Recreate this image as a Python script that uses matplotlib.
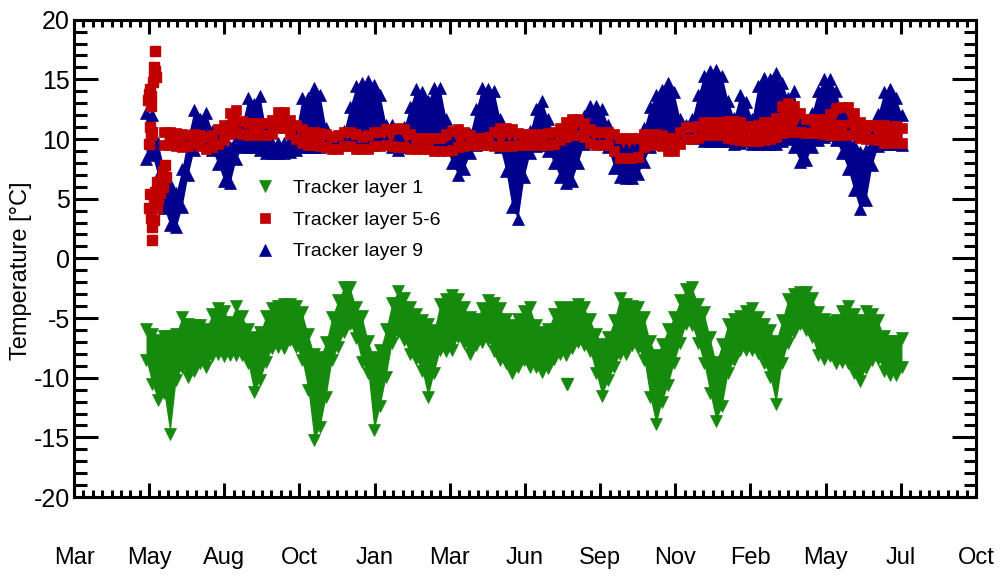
import matplotlib
matplotlib.use("Agg")
import matplotlib.pyplot as plt
import numpy as np

plt.rcParams["font.family"] = ["Liberation Sans", "DejaVu Sans"]
plt.rcParams["axes.unicode_minus"] = False

# x axis: days since the first tick, one label every 902/12 days
month_labels = ["Mar", "May", "Aug", "Oct", "Jan", "Mar", "Jun",
                "Sep", "Nov", "Feb", "May", "Jul", "Oct"]

# Tracker layer 1: upper / lower edge of the point cloud, every 6 days
layer1_days = np.arange(72, 829, 6)
layer1_hi = [
    -5.9, -6.3, -6.8, -6.5, -6.5, -6.3, -4.9, -5.5, -5.6, -5.6,
    -5.9, -4.7, -4.2, -4.4, -5.3, -4.0, -4.8, -5.9, -6.6, -6.2,
    -4.8, -4.2, -4.0, -3.8, -3.8, -4.0, -4.5, -6.3, -8.0, -8.3,
    -7.0, -4.9, -3.5, -2.4, -2.4, -4.1, -4.8, -6.9, -8.3, -7.7,
    -5.9, -3.7, -2.7, -3.3, -4.1, -4.7, -5.2, -5.5, -6.0, -3.8,
    -3.4, -3.1, -3.4, -4.1, -4.9, -5.1, -4.2, -3.5, -3.7, -4.2,
    -5.1, -5.6, -5.1, -4.4, -4.1, -5.6, -6.2, -5.9, -4.7, -4.1,
    -4.2, -4.1, -3.8, -4.1, -5.1, -6.3, -7.2, -6.6, -5.2, -3.3,
    -3.8, -4.0, -4.1, -4.9, -6.9, -8.1, -7.2, -5.9, -4.9, -3.5,
    -2.6, -2.4, -3.8, -4.5, -6.6, -8.7, -7.2, -5.5, -5.1, -4.8,
    -4.4, -4.2, -4.9, -5.5, -6.0, -6.9, -5.2, -3.4, -3.0, -2.8,
    -2.8, -3.3, -4.5, -5.1, -5.3, -5.2, -4.4, -4.0, -4.7, -5.2,
    -4.4, -4.7, -5.2, -6.5, -6.9, -6.9, -6.7]
layer1_lo = [
    -8.5, -10.5, -11.9, -11.3, -14.7, -10.2, -9.1, -9.9, -9.4, -8.8,
    -9.1, -8.2, -8.0, -8.2, -8.1, -8.1, -8.1, -8.8, -11.2, -10.2,
    -8.7, -7.5, -7.4, -7.5, -6.8, -7.4, -8.5, -11.0, -15.2, -14.1,
    -11.6, -8.5, -7.4, -6.2, -5.5, -6.7, -8.7, -9.6, -14.4, -12.4,
    -9.9, -7.1, -6.2, -6.8, -8.0, -8.4, -9.4, -11.6, -9.6, -7.7,
    -7.8, -7.7, -6.6, -7.1, -8.0, -7.3, -7.0, -6.8, -7.8, -8.5,
    -8.8, -9.6, -9.1, -8.5, -9.1, -9.1, -9.5, -9.2, -8.4, -8.0,
    -8.1, -7.5, -7.0, -7.3, -7.8, -9.6, -11.5, -10.2, -9.1, -8.0,
    -8.0, -7.3, -7.5, -8.5, -11.6, -13.9, -12.0, -10.6, -8.8, -7.1,
    -5.5, -5.6, -7.1, -8.8, -11.3, -13.6, -12.4, -9.6, -8.5, -7.7,
    -7.7, -7.7, -7.9, -8.8, -9.9, -12.2, -8.8, -7.1, -6.2, -5.5,
    -6.0, -6.6, -8.1, -8.4, -8.2, -8.8, -8.7, -8.8, -9.6, -10.3,
    -9.2, -8.5, -8.4, -9.4, -9.8, -9.8, -9.1]
layer1_extra_days = [493]
layer1_extra = [-10.5]

# Tracker layer 9
layer9_days = np.arange(72, 829, 6)
layer9_lo = [
    8.3, 8.7, 6.9, 4.2, 2.8, 2.6, 4.3, 7.0, 9.1, 9.8,
    9.6, 9.1, 7.9, 6.5, 6.3, 8.3, 9.3, 9.3, 9.3, 9.1,
    8.8, 8.8, 8.8, 8.8, 8.9, 9.1, 9.3, 9.3, 9.3, 9.3,
    9.6, 9.6, 9.8, 9.8, 9.8, 9.8, 9.8, 9.8, 10.0, 10.0,
    9.8, 9.3, 9.1, 9.3, 9.7, 9.8, 9.8, 9.8, 9.8, 9.8,
    9.3, 8.0, 7.0, 7.5, 8.8, 9.5, 9.8, 9.8, 9.8, 9.3,
    7.3, 4.3, 3.3, 6.8, 8.8, 9.4, 9.5, 9.0, 8.0, 6.8,
    6.3, 6.5, 8.0, 9.6, 9.8, 9.8, 9.8, 9.3, 7.6, 6.8,
    6.7, 6.7, 7.1, 8.1, 9.3, 9.8, 10.1, 10.3, 10.3, 10.3,
    10.3, 10.3, 10.1, 9.8, 9.8, 9.8, 9.8, 9.8, 9.6, 9.7,
    9.8, 9.6, 9.6, 9.6, 9.6, 9.6, 9.8, 10.0, 9.3, 8.1,
    8.2, 9.3, 9.9, 10.2, 10.3, 9.9, 8.8, 7.5, 5.7, 4.1,
    4.9, 7.8, 9.4, 9.6, 9.6, 9.6, 9.5]
layer9_hi = [
    12.2, 12.0, 9.7, 7.5, 6.2, 5.5, 7.5, 10.2, 12.4, 11.7,
    12.2, 10.7, 9.9, 9.3, 9.3, 9.9, 11.3, 13.4, 12.9, 13.6,
    10.7, 9.7, 9.7, 9.7, 9.9, 10.7, 13.4, 13.4, 14.3, 13.7,
    10.9, 10.2, 10.2, 10.7, 12.7, 14.4, 14.7, 14.9, 14.5, 13.7,
    11.2, 11.2, 10.3, 11.0, 12.7, 14.2, 13.9, 13.2, 14.3, 14.3,
    11.7, 9.9, 9.2, 9.2, 10.4, 12.5, 14.3, 14.2, 14.0, 11.7,
    9.7, 9.7, 9.7, 9.7, 10.7, 12.5, 13.2, 11.7, 10.4, 9.7,
    9.7, 10.1, 10.5, 11.9, 12.8, 12.8, 12.5, 11.2, 9.9, 9.2,
    9.2, 9.2, 9.5, 10.9, 12.7, 13.7, 14.1, 14.7, 13.9, 11.7,
    11.2, 11.7, 13.7, 15.3, 15.7, 15.8, 15.3, 13.2, 11.8, 13.7,
    13.1, 11.7, 14.4, 15.1, 15.0, 15.5, 14.7, 13.4, 14.0, 11.2,
    11.1, 12.2, 14.0, 15.0, 15.0, 14.0, 12.2, 10.5, 9.5, 8.9,
    9.1, 10.2, 12.1, 13.9, 14.2, 13.4, 12.0]

# Tracker layer 5-6: scattered start-up points, then the regular band
layer56_start_days = [75, 76, 77, 74, 79, 80, 81, 80, 82, 81, 77,
                      76, 77, 75, 78, 76, 75, 77, 78, 78, 80,
                      81, 83, 84, 85, 86, 87, 89, 89, 91, 92, 83, 80]
layer56_start = [13.8, 14.2, 13.6, 13.3, 14.8, 15.3, 15.7, 16.0, 15.2, 17.4, 12.8,
                 11.0, 10.3, 9.6, 10.6, 5.4, 4.2, 3.4, 2.6, 1.5, 4.6,
                 5.6, 4.2, 5.0, 6.2, 5.5, 6.6, 6.0, 7.3, 7.8, 6.8, 6.4, 3.2]
layer56_days = np.arange(90, 829, 6)
layer56_lo = [
    9.5, 9.5, 9.4, 9.3, 9.4, 9.7, 9.4, 9.2, 9.3, 9.6,
    9.9, 10.4, 10.6, 10.4, 10.3, 10.3, 10.3, 10.3, 10.4, 10.9,
    10.9, 10.4, 10.0, 9.7, 9.5, 9.5, 9.4, 9.3, 9.2, 9.2,
    9.4, 9.4, 9.2, 9.2, 9.2, 9.4, 9.4, 9.5, 9.4, 9.3,
    9.3, 9.2, 9.2, 9.2, 9.2, 9.0, 9.0, 9.0, 9.1, 9.3,
    9.4, 9.5, 9.5, 9.5, 9.5, 9.4, 9.4, 9.4, 9.4, 9.5,
    9.5, 9.5, 9.5, 9.5, 9.5, 9.6, 9.9, 10.2, 10.3, 10.3,
    10.2, 9.7, 9.5, 9.5, 9.5, 9.0, 8.4, 8.4, 8.4, 8.5,
    9.3, 9.5, 9.5, 9.4, 9.0, 9.0, 9.6, 10.0, 10.0, 10.1,
    10.3, 10.3, 10.3, 10.3, 10.1, 10.0, 9.9, 9.8, 9.8, 9.8,
    9.9, 10.0, 10.2, 10.5, 10.6, 10.6, 10.6, 10.5, 10.5, 10.5,
    10.4, 10.3, 10.3, 10.3, 10.3, 10.3, 10.1, 10.0, 10.0, 9.9,
    9.7, 9.7, 9.7, 9.7]
layer56_hi = [
    10.6, 10.6, 10.5, 10.4, 10.3, 10.4, 10.3, 10.2, 10.3, 10.8,
    11.2, 12.2, 12.4, 11.5, 11.3, 11.3, 11.3, 11.3, 11.6, 12.3,
    12.3, 11.6, 11.2, 10.8, 10.6, 10.6, 10.5, 10.4, 10.2, 10.3,
    10.6, 10.6, 10.4, 10.2, 10.3, 10.6, 10.6, 10.8, 10.8, 10.9,
    10.8, 10.4, 10.1, 10.1, 10.1, 10.1, 10.1, 10.4, 10.7, 10.8,
    10.6, 10.3, 10.1, 10.1, 10.2, 10.6, 10.9, 10.9, 10.8, 10.5,
    10.4, 10.4, 10.4, 10.4, 10.5, 10.6, 10.9, 11.4, 11.7, 11.7,
    11.3, 10.8, 10.6, 10.6, 10.6, 10.4, 10.1, 10.1, 10.1, 10.1,
    10.4, 10.4, 10.4, 10.3, 10.1, 10.1, 10.6, 11.0, 11.0, 11.1,
    11.4, 11.4, 11.4, 11.4, 11.5, 11.5, 11.4, 11.1, 11.1, 11.2,
    11.4, 11.4, 11.8, 12.8, 13.0, 12.8, 12.2, 11.7, 11.7, 11.7,
    11.7, 12.1, 12.6, 12.7, 12.7, 12.2, 11.4, 11.2, 11.2, 11.2,
    11.2, 11.1, 11.1, 10.9]

GREEN = "#158a0c"
RED = "#c00000"
BLUE = "#00008c"


def draw_band(ax, days, lo, hi, color, marker, size, label):
    """Filled cloud between the two edges, with markers along both edges."""
    ax.fill_between(days, lo, hi, color=color, lw=0)
    ax.plot(days, hi, ls="none", marker=marker, ms=size, color=color,
            mec=color, mew=0.5, label=label)
    ax.plot(days, lo, ls="none", marker=marker, ms=size, color=color,
            mec=color, mew=0.5)


fig, ax = plt.subplots(figsize=(10.03, 5.78), dpi=100)
fig.subplots_adjust(left=0.0738, right=0.973, bottom=0.14, top=0.966)

draw_band(ax, layer1_days, layer1_lo, layer1_hi, GREEN, "v", 8,
          "Tracker layer 1")
ax.plot(layer1_extra_days, layer1_extra, ls="none", marker="v", ms=8,
        color=GREEN, mec=GREEN)
draw_band(ax, layer9_days, layer9_lo, layer9_hi, BLUE, "^", 8,
          "Tracker layer 9")
draw_band(ax, layer56_days, layer56_lo, layer56_hi, RED, "s", 7,
          "Tracker layer 5-6")
ax.plot(layer56_start_days, layer56_start, ls="none", marker="s", ms=7,
        color=RED, mec=RED)

ax.set_xlim(0, 902)
ax.set_ylim(-20, 20)
ax.set_xticks(np.linspace(0, 902, 13))
ax.set_xticklabels(month_labels)
ax.set_xticks(np.linspace(0, 902, 97), minor=True)
ax.set_yticks(np.arange(-20, 21, 5))
ax.set_yticks(np.arange(-20, 21, 1), minor=True)

ax.tick_params(which="both", direction="in", top=True, right=True,
               width=2.2, color="black")
ax.tick_params(axis="y", which="major", length=17, labelsize=18, pad=3)
ax.tick_params(axis="y", which="minor", length=9)
ax.tick_params(axis="x", which="major", length=10, labelsize=17, pad=36)
ax.tick_params(axis="x", which="minor", length=5)
for spine in ax.spines.values():
    spine.set_linewidth(2.2)

ax.set_ylabel("Temperature [°C]", fontsize=17)
ax.yaxis.set_label_coords(-0.047, 0.475)

handles, labels = ax.get_legend_handles_labels()
order = [labels.index(n) for n in
         ("Tracker layer 1", "Tracker layer 5-6", "Tracker layer 9")]
ax.legend([handles[i] for i in order], [labels[i] for i in order],
          loc="upper left", bbox_to_anchor=(0.201, 0.666), frameon=False,
          fontsize=14, handlelength=1.0, handletextpad=0.95, borderpad=0,
          borderaxespad=0, labelspacing=0.73, numpoints=1)

fig.savefig("out.png", dpi=100)
